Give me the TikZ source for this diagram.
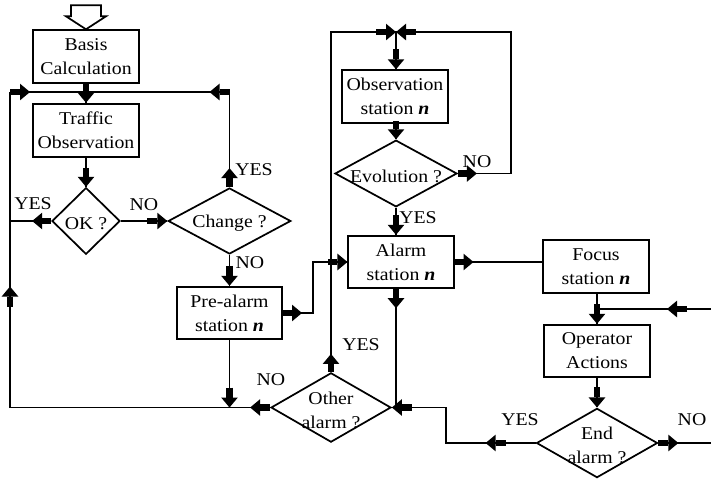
\documentclass[tikz,border=0pt]{standalone}
\usepackage{fontspec}
\setmainfont{Liberation Serif}[FakeStretch=1.1]
\usetikzlibrary{arrows.meta, positioning, calc, shapes.geometric}

\begin{document}
\begin{tikzpicture}[
        x=0.75pt, y=-0.75pt,
        font=\fontsize{13.5pt}{18pt}\selectfont,
        line width=1.3pt,
        block/.style={rectangle, draw, minimum width=79pt, minimum height=39.5pt, align=center, inner sep=1pt},
        decision/.style={diamond, draw, inner sep=0pt, label={[align=center, yshift=-2pt]center:#1}},
        fat/.style={line width=5pt, -{Triangle[length=7.5pt, width=12.5pt, line width=0pt]}},
        answer/.style={inner sep=0pt}
    ]
        \useasboundingbox (0,0) rectangle (711,479);

        % left column
        \node[block] (basis) at (86,56.5) {Basis\\Calculation};
        \node[block] (traffic) at (86,130.5) {Traffic\\Observation};
        \node[decision={OK ?}, minimum width=51pt, minimum height=50pt] (ok) at (86,221) {};
        \node[decision={Change ?}, minimum width=92pt, minimum height=49.5pt] (change) at (229.5,221) {};
        \node[block] (prealarm) at (229.5,313) {Pre-alarm\\station \textbf{\textit{n}}};

        % middle column
        \node[block] (obs) at (395,96.5) {Observation\\station \textbf{\textit{n}}};
        \node[decision={Evolution ?}, minimum width=91.5pt, minimum height=50pt] (evol) at (396,173.5) {};
        \node[block] (alarm) at (401,262) {Alarm\\station \textbf{\textit{n}}};
        \node[decision={Other\\alarm ?}, minimum width=90pt, minimum height=52pt] (other) at (331,407.5) {};

        % right column
        \node[block] (focus) at (596,266.5) {Focus\\station \textbf{\textit{n}}};
        \node[block] (oper) at (597,351) {Operator\\Actions};
        \node[decision={End\\alarm ?}, minimum width=90.75pt, minimum height=52pt] (endalarm) at (597,443) {};

        \coordinate (topL) at (10,92);
        \coordinate (botL) at (10,407.5);
        \coordinate (merge) at (396,32);
        \coordinate (rin) at (711,309);
        \coordinate (rout) at (711,443);

        % entry arrow
        \draw[line join=miter] ($(basis.north)+(-15,-24)$) -- ++(30,0) -- ++(0,11) -- ++(5,0)
            -- (basis.north) -- ++(-20,-13) -- ++(5,0) -- cycle;

        % connectors
        \draw (basis) -- (traffic);
        \draw (traffic) -- (ok);
        \draw (ok.west) -- (ok.west -| topL);
        \draw (ok.east) -- (change.west);
        \draw (topL) -- (change.north |- topL) -- (change.north);
        \draw (topL) -- (botL) -- (other.west);
        \draw (change.south) -- (prealarm.north);
        \draw (prealarm.south) -- (prealarm.south |- botL);
        \draw (prealarm.east) -- ++(30,0) |- (alarm.west);
        \draw (other.north) |- (merge) -- (merge |- obs.north);
        \draw (obs.south -| evol.north) -- (evol.north);
        \draw (evol.east) -- ++(53,0) |- (merge);
        \draw (evol.south) -- (evol.south |- alarm.north);
        \draw (alarm.south -| merge) -- (merge |- other.east) -- (other.east);
        \draw (alarm.east) -- (alarm.east -| focus.west);
        \draw (oper.north |- focus.south) -- (oper.north);
        \draw (rin) -- (rin -| oper.north);
        \draw (oper) -- (endalarm);
        \draw (endalarm.east) -- (rout);
        \draw (endalarm.west) -- ++(-90,0) |- (other.east);

        % arrow heads
        \draw[fat] (basis.south) -- ++(0,19);
        \draw[fat] ($(ok.north)+(0,-19)$) -- (ok.north);
        \draw[fat] (ok.west) -- ++(-19,0);
        \draw[fat] ($(change.west)+(-20,0)$) -- (change.west);
        \draw[fat] (change.north) -- ++(0,-19);
        \draw[fat] (change.north |- topL) -- ++(-20,0);
        \draw[fat] (topL) -- ++(20,0);
        \draw[fat] ($(botL)+(0,-101)$) -- ++(0,-20);
        \draw[fat] ($(prealarm.north)+(0,-20)$) -- (prealarm.north);
        \draw[fat] (prealarm.east) -- ++(19,0);
        \draw[fat] ($(alarm.west)+(-19,0)$) -- (alarm.west);
        \draw[fat] ($(prealarm.south |- botL)+(0,-20)$) -- (prealarm.south |- botL);
        \draw[fat] (other.west) -- ++(-20,0);
        \draw[fat] (other.north) -- ++(0,-18);
        \draw[fat] ($(merge)+(-20,0)$) -- (merge);
        \draw[fat] ($(merge)+(20,0)$) -- (merge);
        \draw[fat] ($(merge |- obs.north)+(0,-20)$) -- (merge |- obs.north);
        \draw[fat] ($(evol.north)+(0,-18)$) -- (evol.north);
        \draw[fat] (evol.east) -- ++(19,0);
        \draw[fat] ($(evol.south |- alarm.north)+(0,-20)$) -- (evol.south |- alarm.north);
        \draw[fat] (alarm.east) -- ++(19,0);
        \draw[fat] (alarm.south -| merge) -- ++(0,19);
        \draw[fat] ($(other.east)+(20,0)$) -- (other.east);
        \draw[fat] ($(endalarm.west)+(-30,0)$) -- ++(-20,0);
        \draw[fat] ($(oper.north)+(0,-20)$) -- (oper.north);
        \draw[fat] ($(rin)+(-24,0)$) -- ++(-20,0);
        \draw[fat] ($(endalarm.north)+(0,-20)$) -- (endalarm.north);
        \draw[fat] (endalarm.east) -- ++(20,0);

        % answers
        \node[answer] (yesok) at (33,204) {YES};
        \node[answer] (nook) at (144,205) {NO};
        \node[answer] (yeschg) at (254,170) {YES};
        \node[answer] (nochg) at (250,263) {NO};
        \node[answer] (nooth) at (271,380) {NO};
        \node[answer] (yesoth) at (361,345) {YES};
        \node[answer] (noev) at (477,162) {NO};
        \node[answer] (yesev) at (418,218) {YES};
        \node[answer] (yesend) at (520,420) {YES};
        \node[answer] (noend) at (692,420) {NO};
    \end{tikzpicture}
\end{document}
